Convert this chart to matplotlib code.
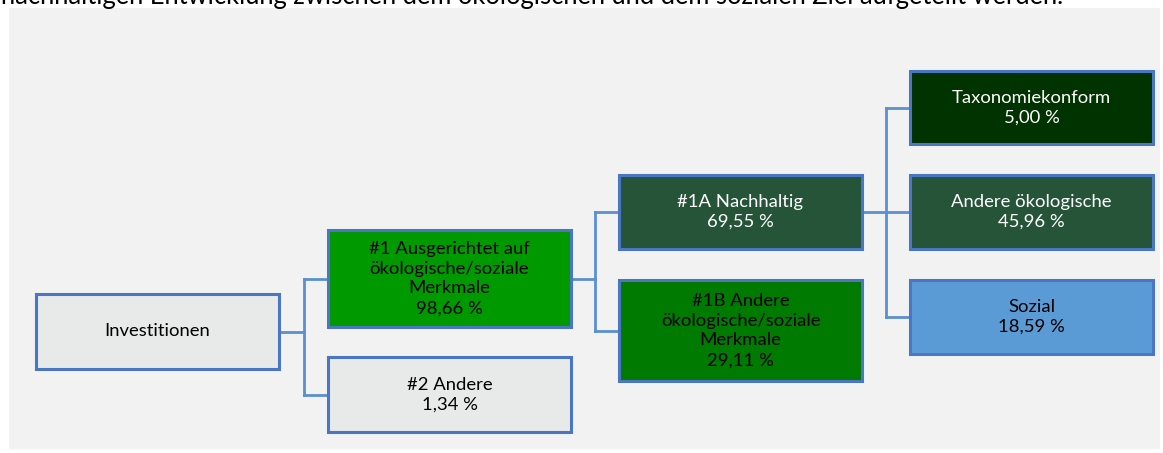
import matplotlib.pyplot as plt
from matplotlib.patches import Rectangle

plt.rcParams["font.family"] = ["Lato", "DejaVu Sans"]

# tree data: label, share, parent
labels = ["Investitionen",
          "#1 Ausgerichtet auf\nökologische/soziale\nMerkmale",
          "#2 Andere",
          "#1A Nachhaltig",
          "#1B Andere\nökologische/soziale\nMerkmale",
          "Taxonomiekonform",
          "Andere ökologische",
          "Sozial"]
shares = [None, 98.66, 1.34, 69.55, 29.11, 5.00, 45.96, 18.59]
parents = [None, 0, 0, 1, 1, 3, 3, 3]

caption = ("nachhaltigen Entwicklung zwischen dem ökologischen und dem "
           "sozialen Ziel aufgeteilt werden.")

# styling per node
fills = ["#e8eaea", "#009900", "#e8eaea", "#265439", "#007a00",
         "#003300", "#265439", "#5b9bd5"]
text_colors = ["black", "black", "black", "white", "black",
               "white", "white", "black"]

# layout (pixels, y downwards)
level = [0, 1, 1, 2, 2, 3, 3, 3]
col_x = [36, 328, 619, 910]
box_w = 243
box_top = [294, 230, 357, 175, 280, 71, 175, 280]
box_h = [75, 97, 75, 74, 101, 73, 74, 74]

W, H = 1163, 453
fig = plt.figure(figsize=(W / 100, H / 100), dpi=100)
ax = fig.add_axes([0, 0, 1, 1])
ax.set_xlim(0, W)
ax.set_ylim(H, 0)
ax.axis("off")

# background panel
ax.add_patch(Rectangle((9, 8), 1151, 441, facecolor="#f2f2f2",
                       edgecolor="none", zorder=0))

# caption line, cut off at the top edge like in the source
ax.text(1063, 4, caption, fontsize=18.4, va="baseline", ha="right",
        color="black")

line_col = "#5b8fd0"
border_col = "#4a76c4"


def center_y(i):
    return box_top[i] + box_h[i] / 2


# connectors
for p in sorted(set(x for x in parents if x is not None)):
    kids = [i for i, q in enumerate(parents) if q == p]
    x0 = col_x[level[p]] + box_w
    x1 = col_x[level[kids[0]]]
    xm = (x0 + x1) / 2
    ax.plot([x0, xm], [center_y(p)] * 2, color=line_col, lw=2, zorder=1)
    ys = [center_y(k) for k in kids] + [center_y(p)]
    ax.plot([xm, xm], [min(ys), max(ys)], color=line_col, lw=2, zorder=1)
    for k in kids:
        ax.plot([xm, x1], [center_y(k)] * 2, color=line_col, lw=2, zorder=1)

# boxes
for i, lab in enumerate(labels):
    x = col_x[level[i]]
    ax.add_patch(Rectangle((x, box_top[i]), box_w, box_h[i],
                           facecolor=fills[i], edgecolor=border_col,
                           lw=2.2, zorder=2))
    txt = lab
    if shares[i] is not None:
        txt += "\n" + f"{shares[i]:.2f} %".replace(".", ",")
    ax.text(x + box_w / 2, center_y(i), txt, ha="center", va="center",
            fontsize=13.3, color=text_colors[i], linespacing=1.3, zorder=3)

fig.savefig("out.png", dpi=100)
